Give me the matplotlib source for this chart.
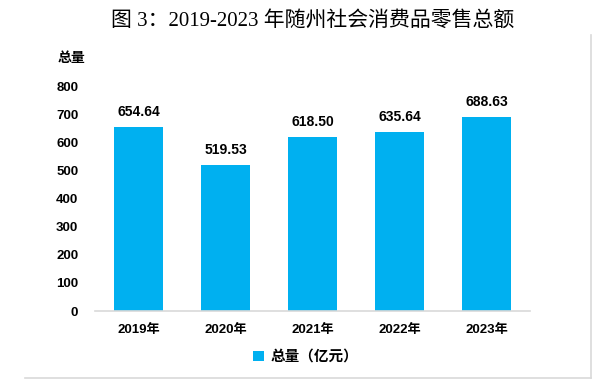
import matplotlib.pyplot as plt
from matplotlib.lines import Line2D

years = ["2019年", "2020年", "2021年", "2022年", "2023年"]
totals = [654.64, 519.53, 618.50, 635.64, 688.63]
yticks = [0, 100, 200, 300, 400, 500, 600, 700, 800]

CJK = ["Liberation Sans", "Noto Sans CJK SC"]
plt.rcParams["font.family"] = CJK
plt.rcParams["text.color"] = "black"

fig = plt.figure(figsize=(6.03, 3.86), dpi=100)

# light gray frame edges (right and bottom only)
W, H = 603, 386
fig.add_artist(Line2D([591 / W, 591 / W], [1 - 35 / H, 1 - 378 / H],
                      transform=fig.transFigure, color="#D9D9D9", lw=1.2))
fig.add_artist(Line2D([25 / W, 591 / W], [1 - 378 / H, 1 - 378 / H],
                      transform=fig.transFigure, color="#D9D9D9", lw=1.2))

ax = fig.add_axes([0.1575, 0.1943, 0.7214, 0.5829])
x = range(len(years))
bars = ax.bar(x, totals, width=0.56, color="#00B0F0", label="总量（亿元）", zorder=2)

for i, v in enumerate(totals):
    ax.annotate(f"{v:.2f}", (i, v), xytext=(0, 6), textcoords="offset points",
                ha="center", va="bottom", fontsize=10, fontweight="bold", color="black")

ax.set_xlim(-0.5, len(years) - 0.5)
ax.set_ylim(0, 800)
ax.set_yticks(yticks)
ax.set_yticklabels([str(t) for t in yticks], fontsize=9.5, fontweight="bold")
ax.set_xticks(list(x))
ax.set_xticklabels(years, fontsize=9.5, fontweight="bold")
ax.tick_params(axis="both", length=0, pad=9, labelcolor="black")
ax.tick_params(axis="y", pad=12)
for s in ["top", "right", "left"]:
    ax.spines[s].set_visible(False)
ax.spines["bottom"].set_color("#D9D9D9")
ax.spines["bottom"].set_linewidth(1.2)

fig.text(71 / W, 1 - 58 / H, "总量", ha="center", va="center",
         fontsize=10, fontweight="bold")

fig.text(313 / W, 1 - 21 / H, "图 3：2019-2023 年随州社会消费品零售总额",
         ha="center", va="center", fontsize=15,
         family=["Liberation Serif", "Noto Sans CJK SC"])

fig.legend(handles=[bars], labels=["总量（亿元）"], loc="center",
           bbox_to_anchor=(306 / W, 1 - 357 / H), frameon=False,
           prop={"size": 10.5, "weight": "bold"}, handlelength=0.7, handleheight=0.7,
           handletextpad=0.5)

fig.savefig("out.png", dpi=100)
